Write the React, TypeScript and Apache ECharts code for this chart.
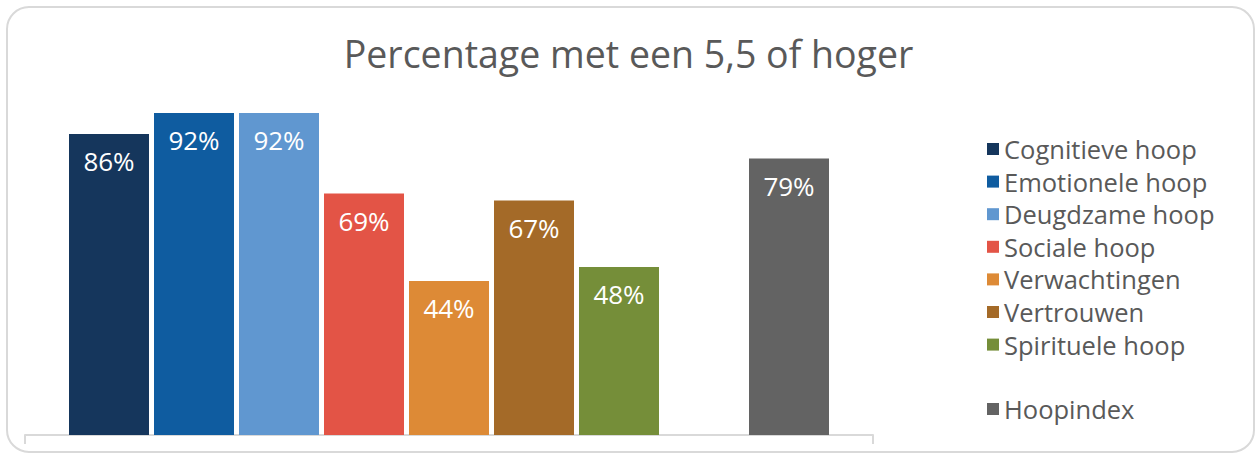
import React, { useEffect, useRef } from "react";
import * as echarts from "echarts";

const seriesNames = [
  "Cognitieve hoop",
  "Emotionele hoop",
  "Deugdzame hoop",
  "Sociale hoop",
  "Verwachtingen",
  "Vertrouwen",
  "Spirituele hoop",
  "",
  "Hoopindex",
];
const seriesValues: (number | null)[] = [86, 92, 92, 69, 44, 67, 48, null, 79];
const seriesColors = [
  "#15365c",
  "#0f5ca0",
  "#6097d0",
  "#e35446",
  "#dd8a36",
  "#a46a28",
  "#758e39",
  "#ffffff",
  "#636363",
];
const categories = ["Hoop"];
const titleText = "Percentage met een 5,5 of hoger";

const FONT = "'Open Sans', Lato, sans-serif";

export default function App() {
  const ref = useRef<HTMLDivElement>(null);
  useEffect(() => {
    if (!ref.current) return;
    const chart = echarts.init(ref.current, undefined, { renderer: "svg" });
    const series = seriesNames.map((name, i) => ({
      type: "bar",
      name: name === "" ? "__blank" : name,
      data: [seriesValues[i]],
      barWidth: 80,
      barGap: "6.25%",
      itemStyle: { color: seriesColors[i] },
      label: {
        show: seriesValues[i] !== null,
        position: "insideTop",
        distance: 14,
        formatter: "{c}%",
        color: "#ffffff",
        fontSize: 26,
        fontFamily: FONT,
      },
    }));
    const legendCommon = {
      orient: "vertical",
      left: 982,
      itemWidth: 12,
      itemHeight: 12,
      itemGap: 6.6,
      icon: "rect",
      textStyle: {
        fontSize: 25.5,
        lineHeight: 25,
        color: "#595959",
        fontFamily: FONT,
        padding: [0, 0, 0, 0],
      },
    };
    chart.setOption({
      animation: false,
      title: {
        text: titleText,
        left: "center",
        top: 29,
        textStyle: {
          fontSize: 37.5,
          fontWeight: "normal",
          color: "#595959",
          fontFamily: FONT,
        },
      },
      legend: [
        { ...legendCommon, top: 131, data: seriesNames.slice(0, 7) },
        { ...legendCommon, top: 391, data: ["Hoopindex"] },
      ],
      grid: { left: 25, right: 384, top: 85, bottom: 19 },
      xAxis: {
        type: "category",
        data: categories,
        axisLine: { lineStyle: { color: "#d9d9d9", width: 2 } },
        axisTick: { show: true, length: 9, lineStyle: { color: "#d9d9d9", width: 2 } },
        axisLabel: { show: false },
      },
      yAxis: {
        type: "value",
        min: 0,
        max: 100,
        show: false,
        splitLine: { show: false },
      },
      graphic: [
        {
          type: "rect",
          shape: { x: 7, y: 7, width: 1247, height: 445, r: 22 },
          style: { fill: "none", stroke: "#d9d9d9", lineWidth: 2 },
          z: -10,
        },
      ],
      series,
    });
    return () => chart.dispose();
  }, []);
  return (
    <div
      ref={ref}
      style={{ position: "fixed", left: 0, top: 0, width: 1257, height: 454, background: "#fff" }}
    />
  );
}
